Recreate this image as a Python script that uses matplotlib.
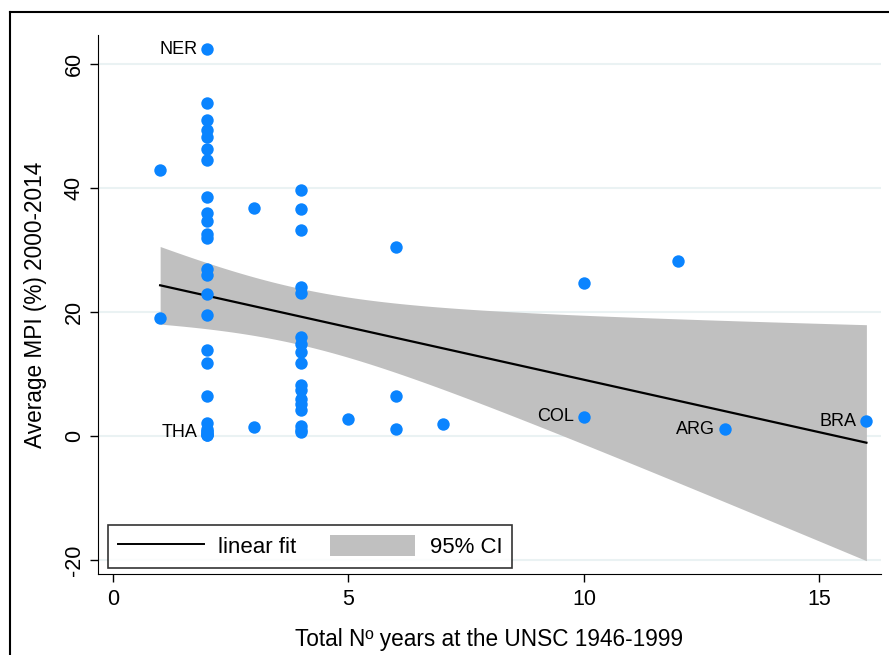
import numpy as np
import matplotlib
matplotlib.use("Agg")
import matplotlib.pyplot as plt
from matplotlib.lines import Line2D
from matplotlib.patches import Patch

plt.rcParams['font.family'] = ['Liberation Sans', 'DejaVu Sans']

# datos: años en el CSNU y MPI promedio
# (en x=2 y x=4 hay puntos superpuestos cerca de 0)
anios = [1, 1,
         2, 2, 2, 2, 2, 2, 2, 2, 2, 2, 2, 2, 2, 2, 2, 2, 2, 2, 2, 2, 2, 2, 2,
         2, 2, 2,
         3, 3,
         4, 4, 4, 4, 4, 4, 4, 4, 4, 4, 4, 4, 4, 4, 4, 4, 4,
         5, 6, 6, 6, 7, 10, 10, 12, 13, 16]
mpi = [42.9, 19.0,
       62.4, 53.7, 50.9, 49.4, 48.3, 46.3, 44.5, 38.6, 36.0, 34.7, 32.6, 31.9,
       26.9, 26.0, 22.9, 19.5, 13.9, 11.7, 6.5, 2.1, 1.2, 0.6, 0.1,
       0.3, 0.2, 0.8,
       36.7, 1.4,
       39.6, 36.6, 33.2, 24.1, 23.1, 16.0, 14.8, 13.5, 11.7, 8.2, 7.4, 6.0,
       5.2, 4.2, 1.6, 0.7, 1.0,
       2.8, 30.5, 6.5, 1.1, 1.9, 24.7, 3.1, 28.3, 1.1, 2.4]

# paises etiquetados
etiquetas = ["NER", "THA", "COL", "ARG", "BRA"]
etiq_x = [2, 2, 10, 13, 16]
etiq_y = [62.4, 0.6, 3.1, 1.1, 2.4]

x = np.array(anios, dtype=float)
y = np.array(mpi)

# ajuste lineal e intervalo de confianza 95%
n = len(x)
b1, b0 = np.polyfit(x, y, 1)
res = y - (b0 + b1 * x)
s = np.sqrt(np.sum(res ** 2) / (n - 2))
xs = np.linspace(x.min(), x.max(), 200)
yhat = b0 + b1 * xs
se = s * np.sqrt(1 / n + (xs - x.mean()) ** 2 / np.sum((x - x.mean()) ** 2))
t = 2.005

fig = plt.figure(figsize=(8.89, 6.55), dpi=100)
ax = fig.add_axes([98 / 889, 1 - 574 / 655, (881 - 98) / 889, (574 - 35) / 655])

ax.fill_between(xs, yhat - t * se, yhat + t * se, color='#c0c0c0', lw=0, zorder=2)
ax.plot(xs, yhat, color='black', lw=1.6, zorder=3)
ax.scatter(x, y, s=80, color='#0a84ff', zorder=4, linewidths=0)

for lab, lx, ly in zip(etiquetas, etiq_x, etiq_y):
    ax.annotate(lab, (lx, ly), xytext=(-7, 0), textcoords='offset points',
                ha='right', va='center', fontsize=13, zorder=5)

ax.set_xlim(-0.32, 16.31)
ax.set_ylim(-22.26, 64.68)
ax.set_xticks([0, 5, 10, 15])
ax.set_yticks([-20, 0, 20, 40, 60])
ax.set_yticklabels(['-20', '0', '20', '40', '60'], rotation=90, va='center')
ax.tick_params(labelsize=15.5, length=6, width=1, direction='out')
ax.tick_params(axis='x', pad=5)
ax.grid(axis='y', color='#eaf2f3', lw=1.5, zorder=0)
ax.set_axisbelow(True)
for sp in ['top', 'right']:
    ax.spines[sp].set_visible(False)

ax.set_xlabel('Total Nº years at the UNSC 1946-1999', fontsize=16.3, labelpad=13)
ax.set_ylabel('Average MPI (%) 2000-2014', fontsize=16.3, labelpad=12)

handles = [Line2D([], [], color='black', lw=1.4),
           Patch(facecolor='#c0c0c0', edgecolor='none')]
leg = ax.legend(handles, ['linear fit', '95% CI'], ncol=2, loc='lower left',
                bbox_to_anchor=(10 / 783, 6 / 539), borderaxespad=0,
                fontsize=16, frameon=True, fancybox=False, edgecolor='black',
                handlelength=3.85, handleheight=1.1, handletextpad=0.65,
                columnspacing=1.5, borderpad=0.45)
leg.get_frame().set_linewidth(1.2)

# marco exterior
fig.add_artist(Line2D([10 / 889, 10 / 889], [0, 1 - 12 / 655], color='black', lw=1.5))
fig.add_artist(Line2D([10 / 889, 1], [1 - 12 / 655, 1 - 12 / 655], color='black', lw=1.5))

fig.savefig('out.png', dpi=100)
